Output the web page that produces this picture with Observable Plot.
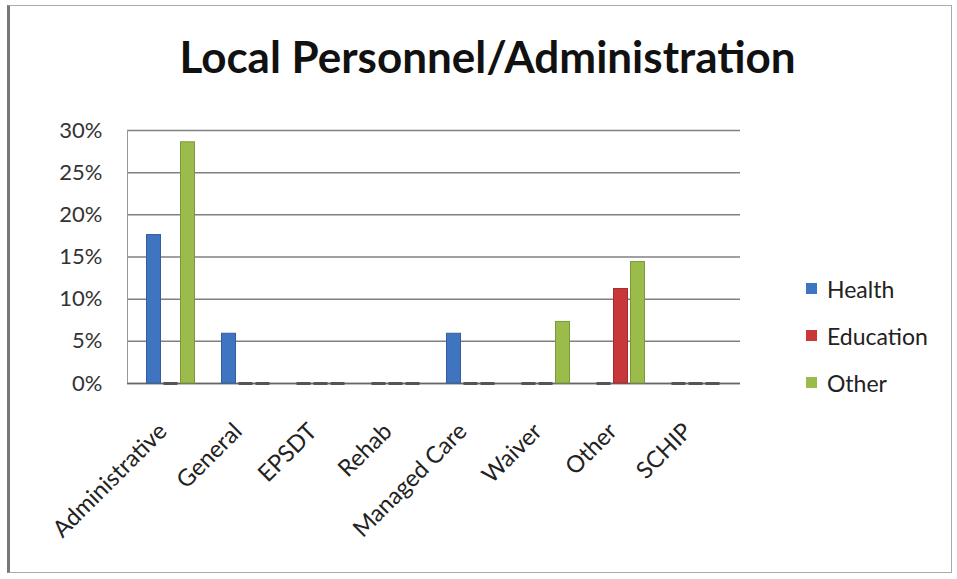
<!DOCTYPE html>
<html>
<head>
<meta charset="utf-8">
<script src="https://cdn.jsdelivr.net/npm/d3@7"></script>
<script src="https://cdn.jsdelivr.net/npm/@observablehq/plot@0.6"></script>
<style>
  body { margin: 0; background: #fff; }
  #wrap { position: relative; width: 957px; height: 579px; overflow: hidden; font-family: Lato, "Open Sans", sans-serif; }
  #frame { position: absolute; left: 7px; top: 5px; width: 941px; height: 566px; border: 1px solid #aaa; border-left: 3px solid #777; }
  #title { position: absolute; top: 30px; left: 0; width: 975px; text-align: center; font-size: 44px; font-weight: bold; color: #111; line-height: 1.2; }
  #chart { position: absolute; left: 0; top: 100px; }
  #legend { position: absolute; left: 806px; top: 265px; font-size: 23px; color: #222; }
  #legend .row { display: flex; align-items: center; height: 47px; }
  #legend .sw { width: 11px; height: 11px; margin-right: 10px; }
</style>
</head>
<body>
<div id="wrap">
  <div id="frame"></div>
  <div id="title">Local Personnel/Administration</div>
  <div id="chart"></div>
  <div id="legend"></div>
</div>
<script>
const categories = ["Administrative", "General", "EPSDT", "Rehab", "Managed Care", "Waiver", "Other", "SCHIP"];
const series = ["Health", "Education", "Other"];
const health = [0.176, 0.059, 0, 0, 0.059, 0, 0, 0];
const education = [0, 0, 0, 0, 0, 0, 0.112, 0];
const other = [0.286, 0, 0, 0, 0, 0.073, 0.144, 0];
const yTicks = [0, 0.05, 0.10, 0.15, 0.20, 0.25, 0.30];
const colors = ["#3f74c0", "#c8383b", "#9bbb4a"];

const seriesValues = [health, education, other];
const bw = 14, gap = 17, band = 75;
const inset = (band - bw) / 2;

const marks = [
  Plot.gridY(yTicks, {stroke: "#808080", strokeOpacity: 1, strokeWidth: 1.5}),
  Plot.axisY(yTicks, {tickFormat: d3.format(".0%"), tickSize: 0, tickPadding: 25, fontSize: 22, fill: "#333", label: null}),
  Plot.axisX({tickRotate: -45, tickSize: 0, tickPadding: 44, fontSize: 23.5, fill: "#222", dx: -8, label: null}),
  Plot.ruleY([0], {stroke: "#666", strokeWidth: 1.5}),
  Plot.ruleX([categories[0]], {y1: 0, y2: 0.30, stroke: "#999", dx: -band / 2 - 6})
];

seriesValues.forEach((vals, i) => {
  const rows = categories.map((c, j) => ({category: c, value: vals[j], series: series[i]}));
  marks.push(Plot.barY(rows.filter(d => d.value > 0), {
    x: "category", y: "value", fill: colors[i], stroke: d3.color(colors[i]).darker(0.6).formatHex(), strokeWidth: 1,
    insetLeft: inset, insetRight: inset, dx: (i - 1) * gap
  }));
  marks.push(Plot.tickY(rows.filter(d => d.value === 0), {
    x: "category", y: "value", stroke: "#555", strokeWidth: 3,
    insetLeft: inset, insetRight: inset, dx: (i - 1) * gap
  }));
});

const plot = Plot.plot({
  width: 957,
  height: 479,
  marginLeft: 127,
  marginRight: 217,
  marginTop: 30,
  marginBottom: 196,
  style: {fontFamily: "Lato, 'Open Sans', sans-serif", background: "transparent", overflow: "visible"},
  x: {domain: categories, padding: 0, range: [133, 733], axis: null},
  y: {domain: [0, 0.30], axis: null},
  marks
});
document.getElementById("chart").appendChild(plot);

const legend = document.getElementById("legend");
series.forEach((s, i) => {
  const row = document.createElement("div");
  row.className = "row";
  const sw = document.createElement("div");
  sw.className = "sw";
  sw.style.background = colors[i];
  const label = document.createElement("span");
  label.textContent = s;
  row.appendChild(sw);
  row.appendChild(label);
  legend.appendChild(row);
});
</script>
</body>
</html>
